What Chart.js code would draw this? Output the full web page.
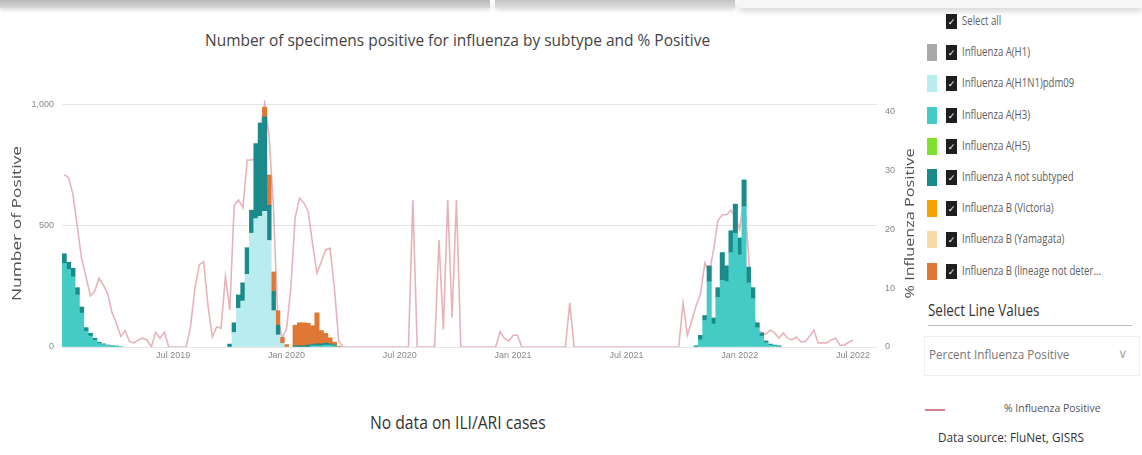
<!DOCTYPE html>
<html>
<head>
<meta charset="utf-8">
<script src="https://cdn.jsdelivr.net/npm/chart.js@4.4.1/dist/chart.umd.min.js"></script>
<style>
  body { margin: 0; width: 1142px; height: 455px; background: #fff; overflow: hidden; position: relative; font-family: "Open Sans", sans-serif; }
  .strip { position: absolute; top: 0; height: 8px; background: linear-gradient(#b9b9b9, #d6d6d6); box-shadow: 0 2px 4px rgba(0,0,0,0.15); }
  .sq { position: absolute; white-space: nowrap; transform-origin: left center; }
  #chart { position: absolute; left: 0; top: 0; }
  .row { position: absolute; left: 927px; height: 17px; }
  .sw { position: absolute; left: 0; top: 0; width: 10px; height: 17px; }
  .cb { position: absolute; left: 19px; top: 1px; width: 11px; height: 15px; background: #1e1e1e; color: #fff; font: 9px "DejaVu Sans"; line-height: 17px; text-align: center; }
  .lbl { position: absolute; left: 35px; top: -1px; font-size: 12px; color: #606060; white-space: nowrap; transform: scaleX(0.8); transform-origin: left center; }
</style>
</head>
<body>
<div class="strip" style="left:0;width:490px"></div>
<div class="strip" style="left:495px;width:240px;background:linear-gradient(#c4c4c4,#dedede)"></div>
<div class="strip" style="left:740px;width:402px;background:#f6f6f6;box-shadow:0 3px 6px rgba(0,0,0,0.18)"></div>

<div class="sq" id="title" style="left:205px;top:28px;font-size:17px;color:#444;transform:scaleX(0.91)">Number of specimens positive for influenza by subtype and % Positive</div>
<canvas id="chart" width="922" height="370"></canvas>
<div class="sq" style="left:370px;top:410px;font-size:18px;color:#333;transform:scaleX(0.87)">No data on ILI/ARI cases</div>

<div id="legend"></div>
<div class="sq" style="left:928px;top:299px;font-size:16px;color:#333;transform:scaleX(0.84)">Select Line Values</div>
<div style="position:absolute;left:928px;top:325px;width:204px;height:1px;background:#bbb"></div>
<div style="position:absolute;left:924px;top:336px;width:214px;height:38px;border:1px solid #f0f0f0"></div>
<div class="sq" style="left:929px;top:345px;font-size:13px;color:#777;transform:scaleX(0.9)">Percent Influenza Positive</div>
<div class="sq" style="left:1118px;top:344px;font-size:13px;color:#aaa">&#8744;</div>
<div style="position:absolute;left:925px;top:409px;width:20px;height:2px;background:#cf8590"></div>
<div class="sq" style="left:1004px;top:400px;font-size:11px;color:#555;transform:scaleX(0.95)">% Influenza Positive</div>
<div class="sq" style="left:938px;top:429px;font-size:12px;color:#333;transform:scaleX(0.98)">Data source: FluNet, GISRS</div>

<script>
// weekly series, first week = week starting 7 Jan 2019
var firstWeek = '2019-01-07';
var nWeeks = 187;

var tickWeeks = [25, 51, 77, 103, 129, 155, 181];
var tickLabels = ['Jul 2019', 'Jan 2020', 'Jul 2020', 'Jan 2021', 'Jul 2021', 'Jan 2022', 'Jul 2022'];
var countTicks = [0, 500, 1000];
var pctTicks = [0, 10, 20, 30, 40];

var subtypeNames = ['Influenza A(H1)', 'Influenza A(H1N1)pdm09', 'Influenza A(H3)', 'Influenza A(H5)',
  'Influenza A not subtyped', 'Influenza B (Victoria)', 'Influenza B (Yamagata)', 'Influenza B (lineage not deter...'];
var subtypeColors = ['#a9a9a9', '#b8ecef', '#45cbc5', '#7fe12e', '#1a8a8b', '#f5a100', '#f8d9a8', '#df7834'];

// bar values as [start week, values...] runs; weeks not listed have no bar
var h1n1pdm = [
  [39, [60, 160, 190, 300, 470, 530, 540, 560, 440, 150, 50, 15]]
];
var h3 = [
  [0, [345, 320, 290, 215, 140, 65, 45, 28, 15, 10, 6, 4, 3, 2]],
  [57, [5, 5, 5, 8, 8, 5]],
  [145, [0, 30, 110, 270, 95, 205, 275, 270, 390, 470, 380, 580, 265, 200, 80, 45, 18, 8, 5, 3]]
];
var notSubtyped = [
  [0, [40, 30, 35, 30, 25, 15, 12, 8, 5, 3, 2, 1, 1]],
  [38, [12, 40, 55, 75, 110, 95, 310, 385, 390, 145, 80, 40]],
  [53, [5, 5, 5, 8, 5, 8, 8, 8, 5, 3]],
  [145, [5, 18, 20, 65, 25, 40, 115, 65, 90, 120, 70, 110, 65, 45, 20, 13, 7, 4, 3, 2]]
];
var bLineageNotDet = [
  [46, [40, 125, 80, 60, 25, 10]],
  [53, [85, 95, 95, 90, 78, 128, 55, 40, 25, 12, 3]]
];

// % influenza positive, one value per week from week 0
var pctPositive = [
  29.3, 28.8, 26, 20.5, 15, 12, 8.7, 9.5, 11.7, 10.5,
  9, 5.8, 4, 1.8, 2.8, 0.9, 0.7, 1.2, 1.5, 1.2,
  0, 2.5, 1.5, 2.5, 0, 0, 0, 0, 0, 3.5,
  10, 14, 14.5, 7, 1.7, 3.4, 3.2, 12, 6.3, 24,
  25, 23.7, 31.8, 31.8, 32, 37, 41.5, 36, 24, 5,
  1.5, 3, 10, 22, 25.3, 24.5, 23, 17.5, 12.6, 14.5,
  16.5, 16.8, 10, 1, 0, 0, 0, 0, 0, 0,
  0, 0, 0, 0, 0, 0, 0, 0, 0, 0,
  25, 0, 0, 0, 0, 0, 18.2, 3, 25, 5,
  25, 0, 0, 0, 0, 0, 0, 0, 0, 0,
  2.6, 1.5, 1, 2, 2, 0, 0, 0, 0, 0,
  0, 0, 0, 0, 0, 0, 7.5, 0, 0, 0,
  0, 0, 0, 0, 0, 0, 0, 0, 0, 0,
  0, 0, 0, 0, 0, 0, 0, 0, 0, 0,
  0, 0, 7.5, 2, 4.5, 7, 9, 14.3, 12.6, 16.5,
  21.5, 22.5, 22.5, 23.3, 22, 20, 26, 16, 6, 3,
  2.5, 2.2, 2.9, 2.4, 1.5, 2.4, 1.5, 1.2, 1.7, 0.9,
  0.9, 1.8, 2.9, 0.7, 0.7, 0.7, 1.2, 1.5, 0.3, 0.3,
  0.8, 1.2
];

function weekLabels() {
  var out = [];
  var d = new Date(firstWeek + 'T00:00:00Z');
  for (var i = 0; i < nWeeks; i++) {
    out.push(d.toISOString().slice(0, 10));
    d.setUTCDate(d.getUTCDate() + 7);
  }
  return out;
}

function spread(runs) {
  var out = new Array(nWeeks).fill(null);
  runs.forEach(function (r) {
    r[1].forEach(function (v, k) { out[r[0] + k] = v; });
  });
  return out;
}

// legend panel
var legend = document.getElementById('legend');
var rows = [''].concat(subtypeNames);
rows.forEach(function (name, i) {
  var row = document.createElement('div');
  row.className = 'row';
  row.style.top = (13 + i * 31.2) + 'px';
  var html = '';
  if (i > 0) html += '<div class="sw" style="background:' + subtypeColors[i - 1] + '"></div>';
  html += '<div class="cb">&#10003;</div><div class="lbl">' + (i === 0 ? 'Select all' : name) + '</div>';
  row.innerHTML = html;
  legend.appendChild(row);
});

function barSet(idx, runs) {
  return {
    label: subtypeNames[idx],
    data: spread(runs),
    backgroundColor: subtypeColors[idx],
    yAxisID: 'y',
    stack: 'flu',
    order: 1,
    categoryPercentage: 1,
    barPercentage: 1
  };
}

// vertical text stretched to a given length, read bottom to top
function sideText(c, text, x, y, len) {
  c.save();
  c.translate(x, y);
  c.rotate(-Math.PI / 2);
  c.font = '12px "Open Sans"';
  var w = c.measureText(text).width;
  c.scale(len / w, 1);
  c.fillStyle = '#505050';
  c.textAlign = 'center';
  c.textBaseline = 'middle';
  c.fillText(text, 0, 0);
  c.restore();
}

var axisTitles = {
  id: 'axisTitles',
  afterDraw: function (chart) {
    var a = chart.chartArea;
    var mid = (a.top + a.bottom) / 2;
    sideText(chart.ctx, 'Number of Positive', 18, mid, 155);
    sideText(chart.ctx, '% Influenza Positive', 911, mid, 150);
  }
};

new Chart(document.getElementById('chart'), {
  type: 'bar',
  data: {
    labels: weekLabels(),
    datasets: [
      barSet(1, h1n1pdm),
      barSet(2, h3),
      barSet(4, notSubtyped),
      barSet(7, bLineageNotDet),
      {
        type: 'line',
        label: '% Influenza Positive',
        data: pctPositive,
        yAxisID: 'y1',
        borderColor: 'rgba(214, 128, 142, 0.6)',
        borderWidth: 1.6,
        pointRadius: 0,
        tension: 0,
        order: 2
      }
    ]
  },
  options: {
    responsive: false,
    animation: false,
    layout: { padding: { top: 100, left: 0, right: 0, bottom: 0 } },
    plugins: { legend: { display: false }, tooltip: { enabled: false } },
    scales: {
      x: {
        stacked: true,
        grid: { display: false, drawTicks: false },
        border: { display: false },
        ticks: {
          autoSkip: false, maxRotation: 0, padding: 3,
          color: '#888', font: { size: 9 },
          callback: function (v, i) {
            var k = tickWeeks.indexOf(i);
            return k >= 0 ? tickLabels[k] : '';
          }
        },
        afterFit: function (s) { s.height = 23; }
      },
      y: {
        stacked: true, position: 'left', min: 0, max: 1020,
        ticks: { padding: 8, color: '#888', font: { size: 9 } },
        grid: { color: '#e6e6e6', drawTicks: false },
        border: { display: false },
        afterBuildTicks: function (s) { s.ticks = countTicks.map(function (v) { return { value: v }; }); },
        afterFit: function (s) { s.width = 62; }
      },
      y1: {
        position: 'right', min: 0, max: 42,
        ticks: { padding: 8, color: '#888', font: { size: 9 } },
        grid: { display: false, drawTicks: false },
        border: { display: false },
        afterBuildTicks: function (s) { s.ticks = pctTicks.map(function (v) { return { value: v }; }); },
        afterFit: function (s) { s.width = 45; }
      }
    }
  },
  plugins: [axisTitles]
});
</script>
</body>
</html>
